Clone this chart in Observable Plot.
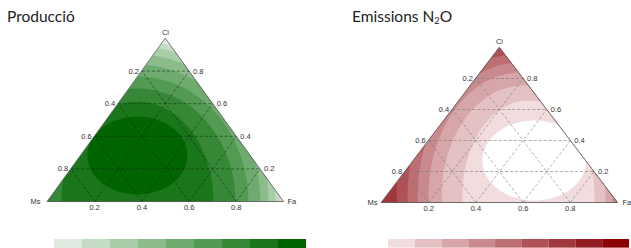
<!DOCTYPE html>
<html><head><meta charset="utf-8">
<script src="https://cdn.jsdelivr.net/npm/d3@7"></script>
<script src="https://cdn.jsdelivr.net/npm/@observablehq/plot@0.6"></script>
<style>
html,body{margin:0;padding:0;background:#fff;overflow:hidden;}
#root{position:relative;width:631px;height:248px;overflow:hidden;font-family:Lato,"Open Sans",sans-serif;}
.title{position:absolute;font-size:15.5px;color:#222;white-space:nowrap;line-height:1;}
.abs{position:absolute;}
</style></head><body><div id="root"></div>
<script>
// ---------- data ----------
const vertexNames = ["Ms", "Fa", "Ci"];
const tickValues = [0.2, 0.4, 0.6, 0.8];
const legendSteps = [1, 2, 3, 4, 5, 6, 7, 8, 9];

// Producció contour bands (ellipses in composition space, outer -> inner)
const prodLevel    = [1, 2, 3, 4, 5, 6, 7, 8];
const prodCenterFa = [0.381, 0.381, 0.381, 0.381, 0.381, 0.381, 0.381, 0.240];
const prodCenterCi = [0, 0, 0, 0, 0, 0, 0, 0.282];
const prodSpreadH  = [0.606, 0.585, 0.555, 0.521, 0.470, 0.415, 0.322, 0.212];
const prodSpreadCi = [0.982, 0.951, 0.902, 0.840, 0.767, 0.693, 0.613, 0.239];
const prodOuterLevel = 0;

// Emissions N2O contour bands (outer -> inner, 0 = white minimum)
const emisLevel    = [7, 6, 5, 4, 3, 2, 1, 0];
const emisCenterFa = [0.567, 0.567, 0.567, 0.567, 0.567, 0.580, 0.600, 0.512];
const emisCenterCi = [0.045, 0.045, 0.045, 0.045, 0.045, 0.045, 0.045, 0.271];
const emisSpreadH  = [0.600, 0.525, 0.479, 0.436, 0.390, 0.347, 0.280, 0.220];
const emisSpreadCi = [1.019, 1.000, 0.916, 0.858, 0.794, 0.710, 0.613, 0.258];
const emisOuterLevel = 8;

// ---------- styles ----------
const greenPalette = ["#dfe9df", "#c4dcc4", "#a9cca9", "#8cbc8c", "#6fab6f", "#539a53", "#368836", "#1a761a", "#006400"];
const redPalette   = ["#f1dddd", "#e4c1c3", "#d7a6a9", "#c98a8e", "#bc6e72", "#ae5257", "#a0373c", "#931b22", "#8b0000"];

// ---------- helpers ----------
const tern = (ms, fa, ci) => [fa + ci / 2, ci];
const tri = [tern(1,0,0), tern(0,1,0), tern(0,0,1)];
function clipToTriangle(poly) {
  let out = poly;
  for (let i = 0; i < 3; i++) {
    const p = tri[i], q = tri[(i + 1) % 3];
    const side = a => (q[0]-p[0])*(a[1]-p[1]) - (q[1]-p[1])*(a[0]-p[0]);
    const input = out; out = [];
    if (!input.length) break;
    for (let j = 0; j < input.length; j++) {
      const cur = input[j], prev = input[(j + input.length - 1) % input.length];
      const sc = side(cur), sp = side(prev);
      const inter = () => { const t = sp / (sp - sc); return [prev[0] + t*(cur[0]-prev[0]), prev[1] + t*(cur[1]-prev[1])]; };
      if (sc >= 0) { if (sp < 0) out.push(inter()); out.push(cur); }
      else if (sp >= 0) out.push(inter());
    }
  }
  return out;
}
function band(fa, ci, sh, sci) {
  const [cu, cv] = tern(1 - fa - ci, fa, ci);
  const pts = d3.range(180).map(k => {
    const t = k / 180 * 2 * Math.PI;
    return [cu + sh * Math.cos(t), cv + sci * Math.sin(t)];
  });
  return clipToTriangle(pts);
}
function gridSegments() {
  const segs = [];
  for (const t of tickValues) {
    let a = tern(1 - t, 0, t), b = tern(0, 1 - t, t);
    segs.push({x1: a[0], y1: a[1], x2: b[0], y2: b[1]});
    a = tern(1 - t, t, 0); b = tern(0, t, 1 - t);
    segs.push({x1: a[0], y1: a[1], x2: b[0], y2: b[1]});
    a = tern(t, 1 - t, 0); b = tern(t, 0, 1 - t);
    segs.push({x1: a[0], y1: a[1], x2: b[0], y2: b[1]});
  }
  return segs;
}

function panel(opts) {
  const {width, height, margins, palette, outerLevel, levels, cFa, cCi, sH, sCi, gridStroke, gridOpacity} = opts;
  const marks = [];
  marks.push(Plot.line(tri, {x: d => d[0], y: d => d[1], fill: () => outerLevel, stroke: "none", curve: "linear-closed"}));
  levels.forEach((lv, i) => {
    const poly = band(cFa[i], cCi[i], sH[i], sCi[i]);
    if (poly.length > 2) marks.push(Plot.line(poly, {x: d => d[0], y: d => d[1], fill: () => lv, stroke: "none", curve: "linear-closed"}));
  });
  marks.push(Plot.link(gridSegments(), {x1: "x1", y1: "y1", x2: "x2", y2: "y2", stroke: gridStroke, strokeOpacity: gridOpacity, strokeWidth: 0.7, strokeDasharray: "3,2"}));
  marks.push(Plot.line(tri, {x: d => d[0], y: d => d[1], stroke: "#555", strokeWidth: 0.8, curve: "linear-closed"}));
  const txt = {fontSize: 7.5, fill: "#333", fontFamily: "Liberation Sans, Arial, sans-serif"};
  marks.push(Plot.text(tickValues, {x: t => tern(t, 0, 1 - t)[0], y: t => tern(t, 0, 1 - t)[1], text: t => t.toFixed(1), textAnchor: "end", dx: -3, ...txt}));
  marks.push(Plot.text(tickValues, {x: t => tern(0, 1 - t, t)[0], y: t => tern(0, 1 - t, t)[1], text: t => t.toFixed(1), textAnchor: "start", dx: 4, ...txt}));
  marks.push(Plot.text(tickValues, {x: t => tern(1 - t, t, 0)[0], y: t => tern(1 - t, t, 0)[1], text: t => t.toFixed(1), dy: 6, ...txt}));
  const corners = vertexNames.map((n, i) => ({n, p: tri[i]}));
  marks.push(Plot.text([corners[0]], {x: d => d.p[0], y: d => d.p[1], text: "n", textAnchor: "end", dx: -opts.msDx, ...txt}));
  marks.push(Plot.text([corners[1]], {x: d => d.p[0], y: d => d.p[1], text: "n", textAnchor: "start", dx: opts.faDx, ...txt}));
  marks.push(Plot.text([corners[2]], {x: d => d.p[0], y: d => d.p[1], text: "n", dy: -6, ...txt}));
  return Plot.plot({
    width, height, ...margins,
    x: {domain: [0, 1], axis: null},
    y: {domain: [0, 1], axis: null},
    color: {type: "ordinal", domain: d3.range(9), range: palette},
    style: {background: "transparent", overflow: "visible"},
    marks
  });
}

function legend(palette) {
  return Plot.plot({
    width: 257, height: 9, margin: 0,
    x: {type: "band", domain: legendSteps, padding: 0, axis: null},
    color: {type: "ordinal", domain: legendSteps, range: palette},
    style: {background: "transparent"},
    marks: [Plot.cell(legendSteps, {x: d => d, fill: d => d})]
  });
}

const root = document.getElementById("root");
function place(el, left, top) { const w = document.createElement("div"); w.className = "abs"; w.style.left = left + "px"; w.style.top = top + "px"; w.appendChild(el); root.appendChild(w); }

const t1 = document.createElement("div"); t1.className = "title"; t1.style.left = "7px"; t1.style.top = "9px"; t1.textContent = "Producció"; root.appendChild(t1);
const t2 = document.createElement("div"); t2.className = "title"; t2.style.left = "352px"; t2.style.top = "9px";
t2.innerHTML = "Emissions N<span style='font-size:60%;position:relative;top:2px'>2</span>O"; root.appendChild(t2);

place(panel({width: 315, height: 215, margins: {marginLeft: 47, marginRight: 32, marginTop: 38, marginBottom: 14},
  palette: greenPalette, outerLevel: prodOuterLevel, levels: prodLevel, cFa: prodCenterFa, cCi: prodCenterCi, sH: prodSpreadH, sCi: prodSpreadCi,
  gridStroke: "#0b2a0b", gridOpacity: 0.75, msDx: 7, faDx: 4}), 0, 0);

place(panel({width: 315, height: 215, margins: {marginLeft: 65, marginRight: 14, marginTop: 47, marginBottom: 13},
  palette: ["#ffffff"].concat(redPalette.slice(0, 8)), outerLevel: emisOuterLevel, levels: emisLevel, cFa: emisCenterFa, cCi: emisCenterCi, sH: emisSpreadH, sCi: emisSpreadCi,
  gridStroke: "#7a7a7a", gridOpacity: 0.85, msDx: 4, faDx: 5}), 316, 0);

place(legend(greenPalette), 51, 239);
place(legend(redPalette), 385, 239);
</script></body></html>
